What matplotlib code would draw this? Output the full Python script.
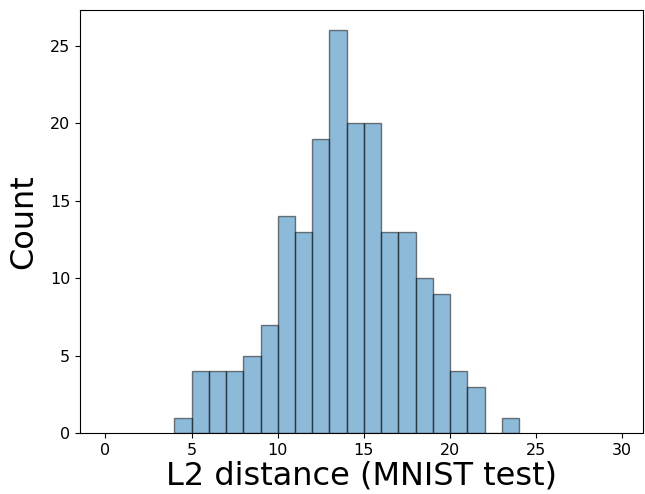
import numpy as np
import matplotlib
matplotlib.use('Agg')
import matplotlib.pyplot as plt

# границы корзин и количество в каждой
bin_edges = np.arange(4, 25)
counts = [1, 4, 4, 4, 5, 7, 14, 13, 19, 26, 20, 20, 13, 13, 10, 9, 4, 3, 0, 1]

fig = plt.figure(figsize=(6.45, 4.94), dpi=100)
ax = fig.add_axes([80 / 645, (494 - 433) / 494, (643 - 80) / 645, (433 - 10) / 494])

ax.hist(bin_edges[:-1], bins=bin_edges, weights=counts,
        color='#1f77b4', alpha=0.5, edgecolor='black', linewidth=1)

ax.set_xlim(-1.48, 31.2)
ax.set_xticks([0, 5, 10, 15, 20, 25, 30])
ax.set_yticks([0, 5, 10, 15, 20, 25])
ax.tick_params(labelsize=11.5)
ax.set_xlabel('L2 distance (MNIST test)', fontsize=23, labelpad=2)
ax.set_ylabel('Count', fontsize=23, labelpad=8)

fig.savefig('out.png', dpi=100)
